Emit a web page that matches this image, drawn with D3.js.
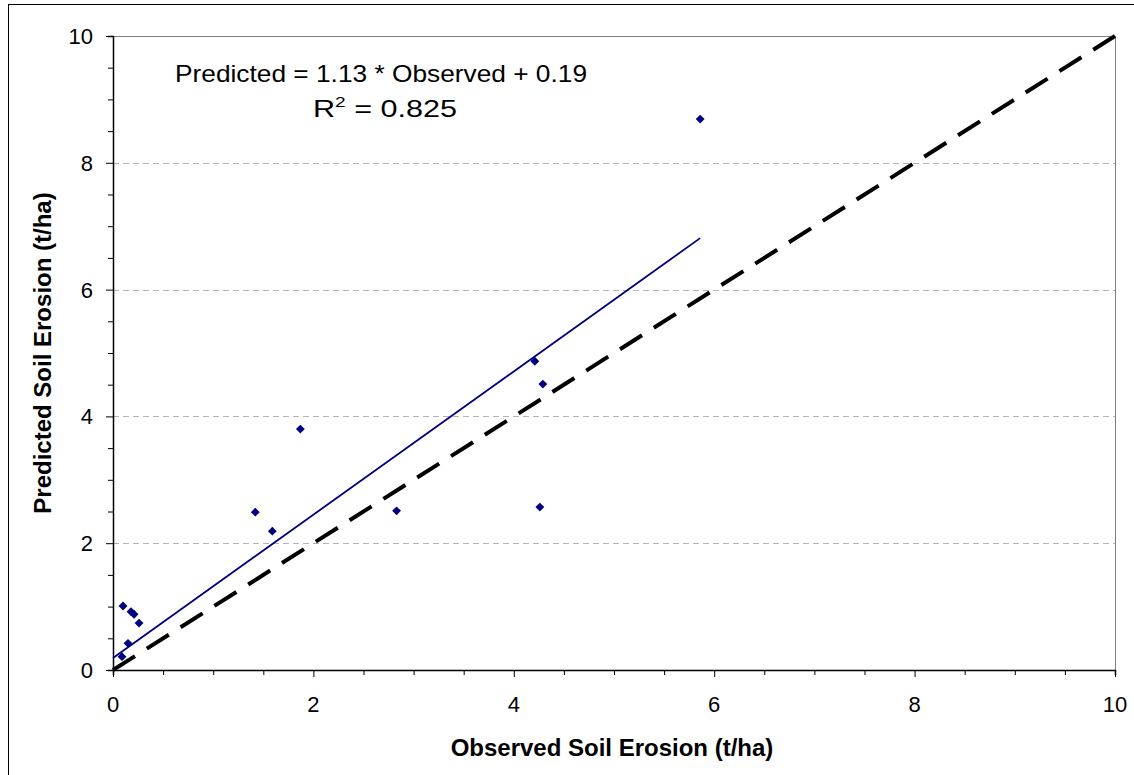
<!DOCTYPE html>
<html>
<head>
<meta charset="utf-8">
<script src="https://cdn.jsdelivr.net/npm/d3@7"></script>
<style>
  body { margin: 0; background: #fff; }
  text { font-family: "Liberation Sans", Arial, sans-serif; }
</style>
</head>
<body>
<div id="vis"></div>
<script>
// observed vs predicted soil erosion (t/ha)
var observed  = [5.86, 4.21, 4.29, 4.26, 2.83, 1.87, 1.42, 1.59, 0.10, 0.18, 0.21, 0.26, 0.15, 0.09];
var predicted = [8.69, 4.87, 4.51, 2.57, 2.51, 3.80, 2.49, 2.19, 1.01, 0.92, 0.88, 0.74, 0.42, 0.21];
var xTicks = [0, 2, 4, 6, 8, 10];
var yTicks = [0, 2, 4, 6, 8, 10];
var slope = 1.13, intercept = 0.19;

function draw() {
  var width = 1134, height = 775;
  var left = 113, right = 1115, top = 36, bottom = 670;

  var svg = d3.select("#vis").append("svg")
              .attr("width", width)
              .attr("height", height);

  // outer chart frame
  svg.append("rect")
     .attr("x", 8.5).attr("y", 4.5)
     .attr("width", 1200).attr("height", 900)
     .attr("fill", "white")
     .attr("stroke", "black")
     .attr("stroke-width", 1);

  var x = d3.scaleLinear().domain([0, 10]).range([left, right]);
  var y = d3.scaleLinear().domain([0, 10]).range([bottom, top]);

  // gridlines
  svg.append("g").selectAll("line")
     .data(yTicks.filter(function(d) { return d > 0 && d < 10; }))
     .enter().append("line")
     .attr("x1", left).attr("x2", right)
     .attr("y1", function(d) { return Math.round(y(d)) + 0.5; })
     .attr("y2", function(d) { return Math.round(y(d)) + 0.5; })
     .attr("stroke", "#b3b3b3")
     .attr("stroke-dasharray", "6,4");

  // plot area top / right border
  svg.append("path")
     .attr("d", "M" + left + "," + (top + 0.5) + "H" + (right + 0.5) + "V" + bottom)
     .attr("fill", "none")
     .attr("stroke", "#808080")
     .attr("stroke-width", 1);

  // axes with minor ticks every 0.5
  var minor = d3.range(0, 10.01, 0.5);
  var xAxis = svg.append("g").attr("transform", "translate(0," + bottom + ")");
  xAxis.call(d3.axisBottom(x).tickValues(minor).tickSize(5).tickFormat(""));
  xAxis.call(function(g) {
    g.selectAll(".tick line").filter(function(d) { return d % 2 === 0; }).attr("y2", 7);
  });
  var yAxis = svg.append("g").attr("transform", "translate(" + left + ",0)");
  yAxis.call(d3.axisLeft(y).tickValues(minor).tickSize(5).tickFormat(""));
  yAxis.call(function(g) {
    g.selectAll(".tick line").filter(function(d) { return d % 2 === 0; }).attr("x2", -7);
  });
  svg.selectAll(".domain").attr("stroke", "black").attr("stroke-width", 1.5);
  svg.selectAll(".tick line").attr("stroke", "black");

  // tick labels
  svg.append("g").selectAll("text")
     .data(xTicks).enter().append("text")
     .attr("x", function(d) { return x(d); })
     .attr("y", 712)
     .attr("text-anchor", "middle")
     .attr("font-size", 22)
     .text(function(d) { return d; });
  svg.append("g").selectAll("text")
     .data(yTicks).enter().append("text")
     .attr("x", 93)
     .attr("y", function(d) { return y(d) + 8; })
     .attr("text-anchor", "end")
     .attr("font-size", 22)
     .text(function(d) { return d; });

  // 1:1 line
  svg.append("line")
     .attr("x1", x(0)).attr("y1", y(0))
     .attr("x2", x(10)).attr("y2", y(10))
     .attr("stroke", "black")
     .attr("stroke-width", 4)
     .attr("stroke-dasharray", "26,14");

  // regression line
  var xmax = d3.max(observed);
  svg.append("line")
     .attr("x1", x(0)).attr("y1", y(intercept))
     .attr("x2", x(xmax)).attr("y2", y(slope * xmax + intercept))
     .attr("stroke", "#000080")
     .attr("stroke-width", 1.8);

  // points
  var diamond = d3.symbol().type(d3.symbolDiamond2).size(50);
  svg.append("g").selectAll("path")
     .data(observed).enter().append("path")
     .attr("d", diamond)
     .attr("transform", function(d, i) { return "translate(" + x(d) + "," + y(predicted[i]) + ")"; })
     .attr("fill", "#000080");

  // equation
  svg.append("text")
     .attr("x", 381).attr("y", 82)
     .attr("text-anchor", "middle")
     .attr("font-size", 24)
     .attr("textLength", 412)
     .attr("lengthAdjust", "spacingAndGlyphs")
     .text("Predicted = " + slope + " * Observed + " + intercept);
  var r2 = svg.append("text")
     .attr("x", 313).attr("y", 117)
     .attr("font-size", 24)
     .attr("textLength", 144)
     .attr("lengthAdjust", "spacingAndGlyphs");
  r2.append("tspan").text("R");
  r2.append("tspan").attr("font-size", 15).attr("dy", -10).text("2");
  r2.append("tspan").attr("dy", 10).text(" = 0.825");

  // axis titles
  svg.append("text")
     .attr("x", 612).attr("y", 756)
     .attr("text-anchor", "middle")
     .attr("font-size", 24)
     .attr("font-weight", "bold")
     .text("Observed Soil Erosion (t/ha)");
  svg.append("text")
     .attr("transform", "translate(51,353) rotate(-90)")
     .attr("text-anchor", "middle")
     .attr("font-size", 24)
     .attr("font-weight", "bold")
     .text("Predicted Soil Erosion (t/ha)");
}

draw();
</script>
</body>
</html>
